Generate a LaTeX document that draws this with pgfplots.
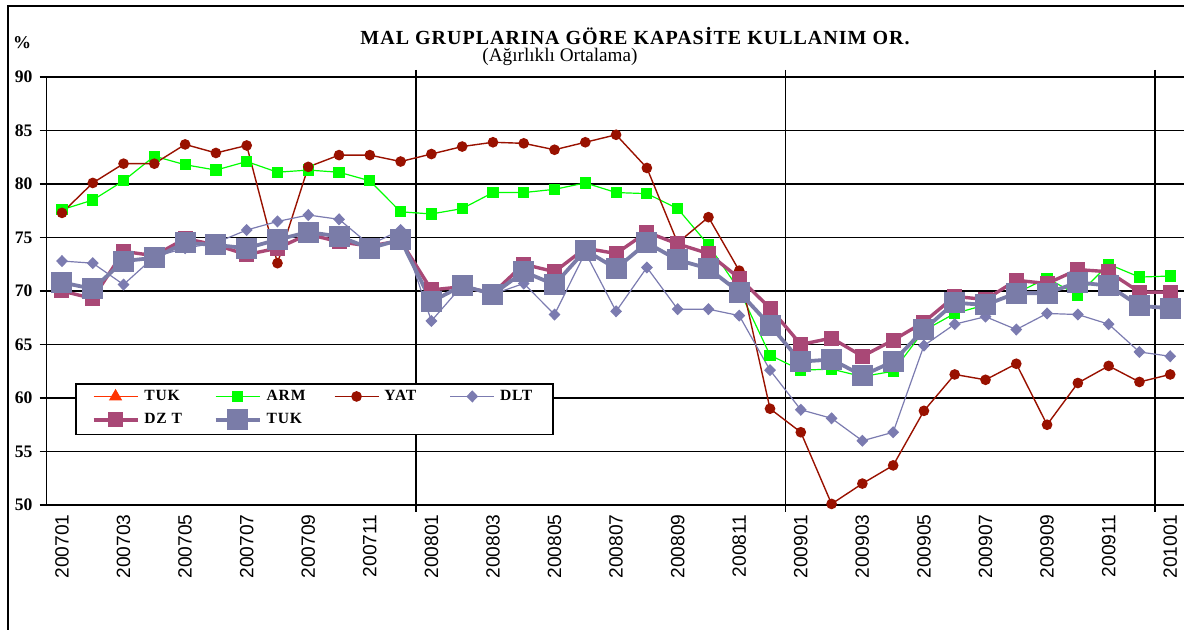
\documentclass[border=0pt]{standalone}
\usepackage{fontspec}
\setmainfont{Liberation Serif}
\newfontfamily\arialf{Liberation Sans}
\newfontfamily\spacedserif[LetterSpace=5]{Liberation Serif}
\usepackage{pgfplots}
\usepackage{pgfplotstable}
\pgfplotsset{compat=1.18}
\definecolor{cTUKr}{RGB}{255,51,0}
\definecolor{cARM}{RGB}{0,255,0}
\definecolor{cYAT}{RGB}{153,17,0}
\definecolor{cDLT}{RGB}{123,123,176}
\definecolor{cDZT}{RGB}{169,72,118}
\definecolor{cTUK}{RGB}{122,124,168}
\pgfplotstableread{
m arm yat dlt dzt tuk
0 77.6 77.3 72.8 70.0 70.8
1 78.5 80.1 72.6 69.3 70.2
2 80.3 81.9 70.6 73.7 72.8
3 82.6 81.9 73.2 73.3 73.1
4 81.8 83.7 74.0 74.9 74.5
5 81.3 82.9 74.5 74.3 74.3
6 82.1 83.6 75.7 73.4 74.0
7 81.1 72.6 76.5 74.0 74.8
8 81.3 81.6 77.1 75.3 75.5
9 81.1 82.7 76.7 74.6 75.1
10 80.3 82.7 74.3 74.2 74.0
11 77.4 82.1 75.7 74.7 74.8
12 77.2 82.8 67.2 70.1 69.0
13 77.7 83.5 70.5 70.4 70.5
14 79.2 83.9 69.7 69.8 69.7
15 79.2 83.8 70.7 72.5 71.8
16 79.5 83.2 67.8 71.8 70.6
17 80.1 83.9 73.6 74.0 73.8
18 79.2 84.6 68.1 73.5 72.1
19 79.1 81.5 72.2 75.5 74.5
20 77.7 74.5 68.3 74.4 72.9
21 74.3 76.9 68.3 73.5 72.1
22 70.1 71.9 67.7 71.2 69.9
23 64.0 59.0 62.6 68.4 66.8
24 62.6 56.8 58.9 65.0 63.4
25 62.7 50.1 58.1 65.6 63.6
26 62.0 52.0 56.0 63.9 62.1
27 62.5 53.7 56.8 65.4 63.4
28 66.3 58.8 64.9 67.1 66.4
29 67.9 62.2 66.9 69.5 68.9
30 68.7 61.7 67.6 69.2 68.7
31 69.8 63.2 66.4 71.0 69.8
32 71.2 57.5 67.9 70.7 69.8
33 69.6 61.4 67.8 72.0 70.8
34 72.5 63.0 66.9 71.8 70.5
35 71.3 61.5 64.3 69.9 68.6
36 71.4 62.2 63.9 69.9 68.4
}\datatable
\begin{document}
\begin{tikzpicture}[x=0.5pt,y=0.5pt]
\useasboundingbox (0,0) rectangle (1184,630);
\draw[line width=0.8pt] (8,-5) -- (8,624) -- (1190,624);
\begin{axis}[
  at={(23.3pt,62.5pt)}, anchor=south west,
  scale only axis, width=569.5pt, height=214pt,
  xmin=-0.5, xmax=36.5, ymin=50, ymax=90,
  ytick={50,55,...,90},
  ymajorgrids,
  grid style={black, line width=0.8pt},
  axis line style={black, line width=0.8pt},
  tick align=outside, major tick length=3.5pt,
  ytick style={black, line width=0.8pt},
  xtick={0,2,...,36},
  xticklabels={200701,200703,200705,200707,200709,200711,200801,200803,200805,200807,200809,200811,200901,200903,200905,200907,200909,200911,201001},
  xtick style={draw=none},
  extra x ticks={11.5,23.5,35.5},
  extra x tick labels={},
  extra x tick style={grid=major, xtick style={black, line width=0.8pt, draw=black}},
  x tick label style={rotate=90, anchor=east, font=\arialf\fontsize{9.6}{10}\selectfont, inner sep=1pt},
  y tick label style={font=\bfseries\fontsize{8.8}{10}\selectfont, /pgf/number format/assume math mode=true},
  yticklabel={\bfseries\pgfmathprintnumber{\tick}},
  clip=false,
  legend columns=4,
  legend cell align=left,
  legend style={at={(rel axis cs:0.025,0.285)}, anchor=north west,
    draw=black, line width=0.8pt, fill=white,
    inner xsep=8pt, inner ysep=2.2pt, row sep=2.6pt,
    font=\spacedserif\bfseries\fontsize{7.8}{9}\selectfont,
    nodes={inner xsep=2.6pt, inner ysep=0.8pt},
    /tikz/every even column/.append style={column sep=0pt}},
  legend image code/.code={\draw[mark repeat=2,mark phase=2,#1] plot coordinates {(0pt,0pt) (11pt,0pt) (22pt,0pt)};},
]
\addplot[color=cTUKr, line width=0.6pt, mark=triangle*, mark size=3.2pt] table[x=m,y=tuk]{\datatable};
\addlegendentry{\makebox[32pt][l]{TUK}}
\addplot[color=cARM, line width=0.6pt, mark=square*, mark size=2.5pt] table[x=m,y=arm]{\datatable};
\addlegendentry{\makebox[31pt][l]{ARM}}
\addplot[color=cYAT, line width=0.7pt, mark=*, mark size=2.3pt] table[x=m,y=yat]{\datatable};
\addlegendentry{\makebox[30pt][l]{YAT}}
\addplot[color=cDLT, line width=0.6pt, mark=diamond*, mark size=2.6pt, mark options={xscale=1.3}] table[x=m,y=dlt]{\datatable};
\addlegendentry{\makebox[16pt][l]{DLT}}
\addplot[color=cDZT, line width=1.7pt, mark=square*, mark size=3.5pt, mark options={line width=0.5pt}] table[x=m,y=dzt]{\datatable};
\addlegendentry{\makebox[32pt][l]{DZ T}}
\addplot[color=cTUK, line width=1.9pt, mark=square*, mark size=5pt, mark options={line width=0.5pt}] table[x=m,y=tuk]{\datatable};
\addlegendentry{\makebox[31pt][l]{TUK}}
\end{axis}
\node[font=\spacedserif\bfseries\fontsize{10}{12}\selectfont, inner sep=0pt] at (635,594) {MAL GRUPLARINA GÖRE KAPASİTE KULLANIM OR.};
\node[font=\fontsize{9.6}{11}\selectfont, inner sep=0pt] at (560,573) {(Ağırlıklı Ortalama)};
\node[font=\bfseries\fontsize{9}{10}\selectfont, inner sep=0pt] at (22,587) {\%};
\end{tikzpicture}
\end{document}
